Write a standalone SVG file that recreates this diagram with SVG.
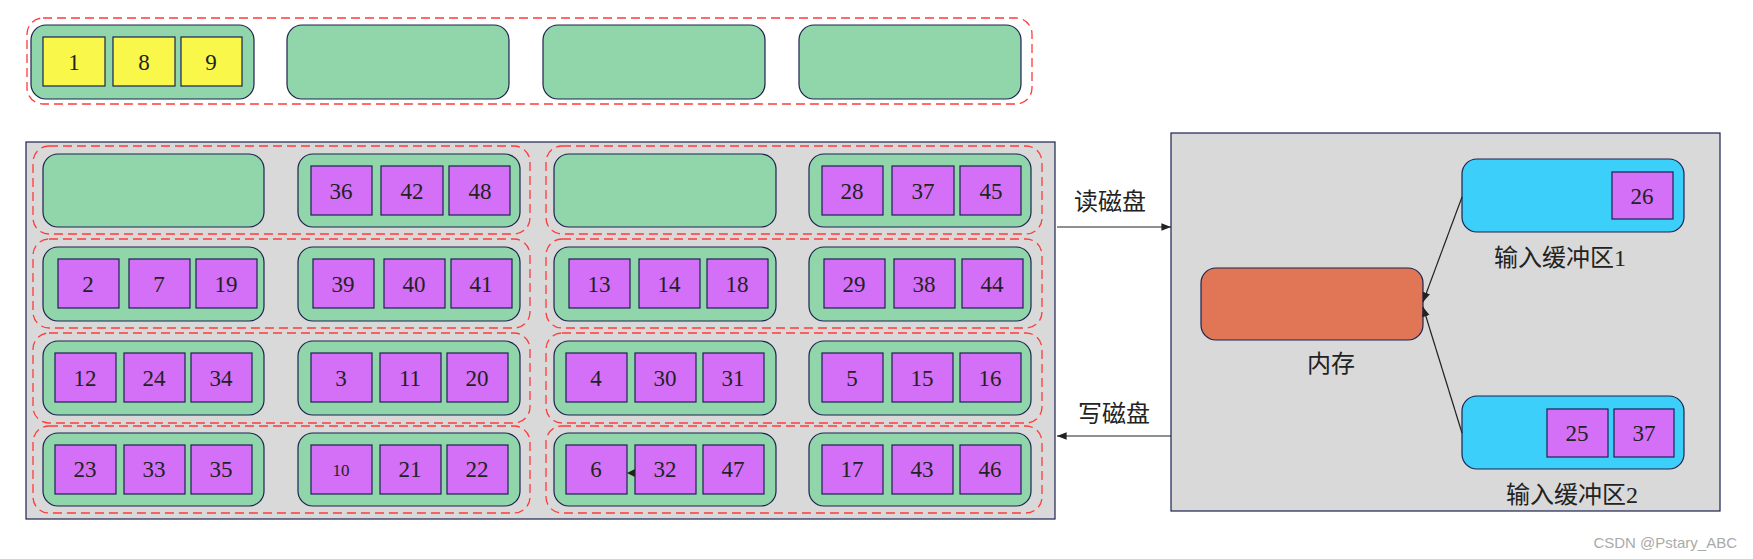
<svg xmlns="http://www.w3.org/2000/svg" width="1753" height="559" viewBox="0 0 1753 559">
<defs>
<style>
.dash{fill:none;stroke:#ff3b3b;stroke-width:1.3;stroke-dasharray:9 5}
.g{fill:#91d5aa;stroke:#1c2250;stroke-width:1.2}
.p{fill:#d46ff7;stroke:#1c2250;stroke-width:1.2}
.y{fill:#f9f74a;stroke:#1c2250;stroke-width:1.2}
.t{font-family:"Liberation Serif",serif;font-size:23px;fill:#222;text-anchor:middle}
.c{font-family:"Liberation Serif","Noto Sans CJK SC",serif;font-size:24px;fill:#222;text-anchor:middle}
.ln{stroke:#222;stroke-width:1.2;fill:none}
</style>
<marker id="ah" viewBox="0 0 10 10" refX="10" refY="5" markerWidth="8" markerHeight="8" orient="auto"><path d="M0,1 L10,5 L0,9 z" fill="#222"/></marker>
</defs>
<g id="top">
<rect class="dash" x="27" y="18" width="1005" height="86" rx="16"/>
<rect class="g" x="31" y="25" width="223" height="74" rx="15"/>
<rect class="y" x="43" y="37" width="62" height="49"/><text class="t" x="74" y="70">1</text>
<rect class="y" x="113" y="37" width="62" height="49"/><text class="t" x="144" y="70">8</text>
<rect class="y" x="181" y="37" width="61" height="49"/><text class="t" x="211" y="70">9</text>
<rect class="g" x="287" y="25" width="222" height="74" rx="15"/>
<rect class="g" x="543" y="25" width="222" height="74" rx="15"/>
<rect class="g" x="799" y="25" width="222" height="74" rx="15"/>
</g>
<g id="disk">
<rect x="26" y="142" width="1029" height="377" fill="#d9d9d9" stroke="#1c2250" stroke-width="1.2"/>
<rect class="dash" x="33" y="146" width="497" height="88" rx="16"/><rect class="dash" x="546" y="146" width="496" height="88" rx="16"/>
<rect class="dash" x="33" y="239" width="497" height="89" rx="16"/><rect class="dash" x="546" y="239" width="496" height="89" rx="16"/>
<rect class="dash" x="33" y="333" width="497" height="90" rx="16"/><rect class="dash" x="546" y="333" width="496" height="90" rx="16"/>
<rect class="dash" x="33" y="426" width="497" height="87" rx="16"/><rect class="dash" x="546" y="426" width="496" height="87" rx="16"/>
</g>
<g id="r1c1"><rect class="g" x="43" y="154" width="221" height="73" rx="15"/></g>
<g id="r1c2"><rect class="g" x="298" y="154" width="222" height="73" rx="15"/>
<rect class="p" x="311" y="166" width="61" height="49"/><text class="t" x="341" y="199">36</text>
<rect class="p" x="381" y="166" width="62" height="49"/><text class="t" x="412" y="199">42</text>
<rect class="p" x="449" y="166" width="61" height="49"/><text class="t" x="480" y="199">48</text></g>
<g id="r1c3"><rect class="g" x="554" y="154" width="222" height="73" rx="15"/></g>
<g id="r1c4"><rect class="g" x="809" y="154" width="222" height="73" rx="15"/>
<rect class="p" x="822" y="166" width="61" height="49"/><text class="t" x="852" y="199">28</text>
<rect class="p" x="892" y="166" width="62" height="49"/><text class="t" x="923" y="199">37</text>
<rect class="p" x="960" y="166" width="61" height="49"/><text class="t" x="991" y="199">45</text></g>
<g id="r2c1"><rect class="g" x="43" y="247" width="221" height="74" rx="15"/>
<rect class="p" x="58" y="259" width="61" height="49"/><text class="t" x="88" y="292">2</text>
<rect class="p" x="129" y="259" width="61" height="49"/><text class="t" x="159" y="292">7</text>
<rect class="p" x="196" y="259" width="61" height="49"/><text class="t" x="226" y="292">19</text></g>
<g id="r2c2"><rect class="g" x="298" y="247" width="222" height="74" rx="15"/>
<rect class="p" x="313" y="259" width="61" height="49"/><text class="t" x="343" y="292">39</text>
<rect class="p" x="384" y="259" width="61" height="49"/><text class="t" x="414" y="292">40</text>
<rect class="p" x="451" y="259" width="61" height="49"/><text class="t" x="481" y="292">41</text></g>
<g id="r2c3"><rect class="g" x="554" y="247" width="222" height="74" rx="15"/>
<rect class="p" x="569" y="259" width="61" height="49"/><text class="t" x="599" y="292">13</text>
<rect class="p" x="639" y="259" width="61" height="49"/><text class="t" x="669" y="292">14</text>
<rect class="p" x="707" y="259" width="61" height="49"/><text class="t" x="737" y="292">18</text></g>
<g id="r2c4"><rect class="g" x="809" y="247" width="222" height="74" rx="15"/>
<rect class="p" x="824" y="259" width="61" height="49"/><text class="t" x="854" y="292">29</text>
<rect class="p" x="894" y="259" width="61" height="49"/><text class="t" x="924" y="292">38</text>
<rect class="p" x="962" y="259" width="61" height="49"/><text class="t" x="992" y="292">44</text></g>
<g id="r3c1"><rect class="g" x="43" y="341" width="221" height="74" rx="15"/>
<rect class="p" x="55" y="353" width="61" height="49"/><text class="t" x="85" y="386">12</text>
<rect class="p" x="124" y="353" width="61" height="49"/><text class="t" x="154" y="386">24</text>
<rect class="p" x="191" y="353" width="61" height="49"/><text class="t" x="221" y="386">34</text></g>
<g id="r3c2"><rect class="g" x="298" y="341" width="222" height="74" rx="15"/>
<rect class="p" x="311" y="353" width="61" height="49"/><text class="t" x="341" y="386">3</text>
<rect class="p" x="380" y="353" width="61" height="49"/><text class="t" x="410" y="386">11</text>
<rect class="p" x="447" y="353" width="61" height="49"/><text class="t" x="477" y="386">20</text></g>
<g id="r3c3"><rect class="g" x="554" y="341" width="222" height="74" rx="15"/>
<rect class="p" x="566" y="353" width="61" height="49"/><text class="t" x="596" y="386">4</text>
<rect class="p" x="635" y="353" width="61" height="49"/><text class="t" x="665" y="386">30</text>
<rect class="p" x="703" y="353" width="61" height="49"/><text class="t" x="733" y="386">31</text></g>
<g id="r3c4"><rect class="g" x="809" y="341" width="222" height="74" rx="15"/>
<rect class="p" x="822" y="353" width="61" height="49"/><text class="t" x="852" y="386">5</text>
<rect class="p" x="892" y="353" width="61" height="49"/><text class="t" x="922" y="386">15</text>
<rect class="p" x="960" y="353" width="61" height="49"/><text class="t" x="990" y="386">16</text></g>
<g id="r4c1"><rect class="g" x="43" y="433" width="221" height="73" rx="15"/>
<rect class="p" x="55" y="445" width="61" height="49"/><text class="t" x="85" y="477">23</text>
<rect class="p" x="124" y="445" width="61" height="49"/><text class="t" x="154" y="477">33</text>
<rect class="p" x="191" y="445" width="61" height="49"/><text class="t" x="221" y="477">35</text></g>
<g id="r4c2"><rect class="g" x="298" y="433" width="222" height="73" rx="15"/>
<rect class="p" x="311" y="445" width="61" height="49"/><text class="t" x="341" y="476" style="font-size:17px">10</text>
<rect class="p" x="380" y="445" width="61" height="49"/><text class="t" x="410" y="477">21</text>
<rect class="p" x="447" y="445" width="61" height="49"/><text class="t" x="477" y="477">22</text></g>
<g id="r4c3"><rect class="g" x="554" y="433" width="222" height="73" rx="15"/>
<rect class="p" x="566" y="445" width="61" height="49"/><text class="t" x="596" y="477">6</text>
<rect class="p" x="635" y="445" width="61" height="49"/><text class="t" x="665" y="477">32</text>
<rect class="p" x="703" y="445" width="61" height="49"/><text class="t" x="733" y="477">47</text></g>
<g id="r4c4"><rect class="g" x="809" y="433" width="222" height="73" rx="15"/>
<rect class="p" x="822" y="445" width="61" height="49"/><text class="t" x="852" y="477">17</text>
<rect class="p" x="892" y="445" width="61" height="49"/><text class="t" x="922" y="477">43</text>
<rect class="p" x="960" y="445" width="61" height="49"/><text class="t" x="990" y="477">46</text></g>
<g id="memoryArea">
<rect x="1171" y="133" width="549" height="378" fill="#d9d9d9" stroke="#1c2250" stroke-width="1.2"/>
</g>
<g id="memory"><rect x="1201" y="268" width="222" height="72" rx="15" fill="#e07656" stroke="#1c2250" stroke-width="1.2"/>
<text class="c" x="1331" y="372">内存</text></g>
<g id="buf1"><rect x="1462" y="159" width="222" height="73" rx="15" fill="#3ccffa" stroke="#1c2250" stroke-width="1.2"/>
<rect class="p" x="1612" y="172" width="61" height="47"/><text class="t" x="1642" y="204">26</text>
<text class="c" x="1560" y="266">输入缓冲区1</text></g>
<g id="buf2"><rect x="1462" y="396" width="222" height="73" rx="15" fill="#3ccffa" stroke="#1c2250" stroke-width="1.2"/>
<rect class="p" x="1547" y="409" width="61" height="48"/><text class="t" x="1577" y="441">25</text>
<rect class="p" x="1614" y="409" width="60" height="48"/><text class="t" x="1644" y="441">37</text>
<text class="c" x="1572" y="503">输入缓冲区2</text></g>
<g id="connectors">
<line class="ln" x1="1057" y1="227" x2="1171" y2="227" marker-end="url(#ah)"/>
<line class="ln" x1="1171" y1="436" x2="1057" y2="436" marker-end="url(#ah)"/>
<line class="ln" x1="1462" y1="197" x2="1423" y2="302" marker-end="url(#ah)"/>
<line class="ln" x1="1462" y1="433" x2="1423" y2="307" marker-end="url(#ah)"/>
<path d="M635,469 L627,473 L635,477 z" fill="#222"/>
<text class="c" x="1110" y="210">读磁盘</text>
<text class="c" x="1114" y="422">写磁盘</text>
</g>
<text x="1737" y="548" style="font-family:'Liberation Sans',sans-serif;font-size:15px;fill:#aaa;text-anchor:end">CSDN @Pstary_ABC</text>
</svg>
